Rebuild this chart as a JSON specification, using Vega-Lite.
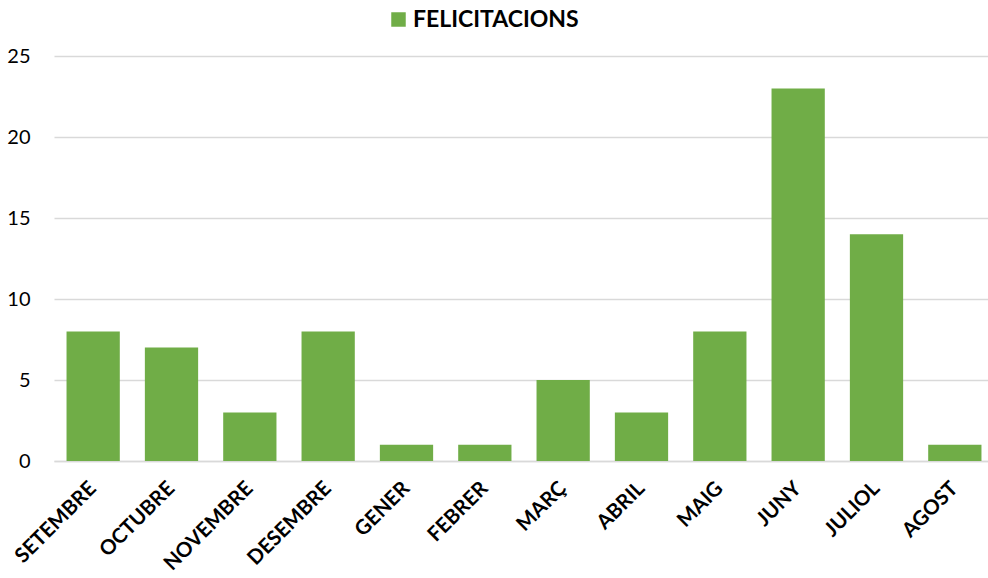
{
  "$schema": "https://vega.github.io/schema/vega-lite/v6.json",
  "autosize": "none",
  "width": 940,
  "height": 405,
  "padding": {"left": 54, "top": 56, "right": 0, "bottom": 117},
  "background": "white",
  "config": {"view": {"stroke": null}, "font": "Lato"},
  "data": {"values": [
    {"mes": "SETEMBRE", "valor": 8, "serie": "FELICITACIONS"},
    {"mes": "OCTUBRE", "valor": 7, "serie": "FELICITACIONS"},
    {"mes": "NOVEMBRE", "valor": 3, "serie": "FELICITACIONS"},
    {"mes": "DESEMBRE", "valor": 8, "serie": "FELICITACIONS"},
    {"mes": "GENER", "valor": 1, "serie": "FELICITACIONS"},
    {"mes": "FEBRER", "valor": 1, "serie": "FELICITACIONS"},
    {"mes": "MARÇ", "valor": 5, "serie": "FELICITACIONS"},
    {"mes": "ABRIL", "valor": 3, "serie": "FELICITACIONS"},
    {"mes": "MAIG", "valor": 8, "serie": "FELICITACIONS"},
    {"mes": "JUNY", "valor": 23, "serie": "FELICITACIONS"},
    {"mes": "JULIOL", "valor": 14, "serie": "FELICITACIONS"},
    {"mes": "AGOST", "valor": 1, "serie": "FELICITACIONS"}
  ]},
  "mark": {"type": "bar"},
  "encoding": {
    "x": {
      "field": "mes", "type": "nominal", "sort": null,
      "scale": {"paddingInner": 0.32, "paddingOuter": 0.16},
      "axis": {
        "title": null, "labelAngle": -45, "labelAlign": "right", "labelBaseline": "middle",
        "labelFont": "Lato", "labelFontWeight": "bold", "labelFontSize": 20.5, "labelColor": "#000000",
        "labelPadding": 24, "ticks": false, "domainColor": "#d9d9d9", "domainWidth": 1.5
      }
    },
    "y": {
      "field": "valor", "type": "quantitative",
      "scale": {"domain": [0, 25], "nice": false},
      "axis": {
        "title": null, "values": [0, 5, 10, 15, 20, 25], "domain": false, "ticks": false,
        "gridColor": "#d9d9d9", "gridWidth": 1.5, "labelFont": "Lato", "labelFontSize": 20,
        "labelColor": "#000000", "labelPadding": 24
      }
    },
    "color": {
      "field": "serie", "type": "nominal",
      "scale": {"range": ["#70ad47"]},
      "legend": {
        "title": null, "orient": "none", "legendX": 333, "legendY": -48,
        "direction": "horizontal", "symbolType": "square", "symbolSize": 210, "labelOffset": 3,
        "labelLimit": 400,
        "labelFont": "Lato", "labelFontWeight": "bold", "labelFontSize": 23, "labelColor": "#000000"
      }
    }
  }
}
